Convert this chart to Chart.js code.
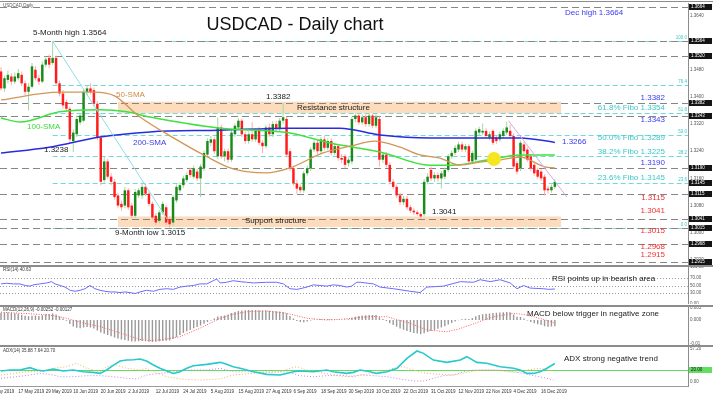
<!DOCTYPE html>
<html lang="en">
<head>
<meta charset="utf-8">
<title>USDCAD - Daily chart</title>
<script src="https://cdn.jsdelivr.net/npm/chart.js@4.4.1/dist/chart.umd.min.js"></script>
<style>
  html, body { margin: 0; padding: 0; background: #fff; }
  #wrap { position: relative; width: 713px; height: 399px; overflow: hidden; background: #fff; }
  #wrap canvas { position: absolute; left: 0; }
  .sep { position: absolute; left: 0; width: 713px; background: #8c8c8c; }
</style>
</head>
<body>
<div id="wrap">
  <canvas id="cMain" width="713" height="262" style="top:3px;width:713px;height:262px"></canvas>
  <canvas id="cRsi" width="713" height="37" style="top:267px;width:713px;height:37px"></canvas>
  <canvas id="cMacd" width="713" height="38" style="top:307px;width:713px;height:38px"></canvas>
  <canvas id="cAdx" width="713" height="52" style="top:347px;width:713px;height:52px"></canvas>
  <div class="sep" style="top:1px;height:1px"></div>
  <div class="sep" style="top:265px;height:2px"></div>
  <div class="sep" style="top:305px;height:2px"></div>
  <div class="sep" style="top:345px;height:2px"></div>
</div>
<script>
// ---------- data (bar index 0 = 10 May 2019) ----------
const dateTicks = ['7 May 2019', '17 May 2019', '29 May 2019', '10 Jun 2019', '20 Jun 2019', '2 Jul 2019',
  '12 Jul 2019', '24 Jul 2019', '5 Aug 2019', '15 Aug 2019', '27 Aug 2019', '6 Sep 2019', '18 Sep 2019',
  '30 Sep 2019', '10 Oct 2019', '22 Oct 2019', '31 Oct 2019', '12 Nov 2019', '22 Nov 2019', '4 Dec 2019', '16 Dec 2019'];
const dateTickPos = [-3, 5, 13, 21, 29, 37, 45, 53, 61, 69, 77, 85, 93, 101, 109, 117, 125, 133, 141, 149, 157];

// open, high, low, close
const candles = [
  [1.3475,1.3488,1.3418,1.3425],[1.3425,1.3462,1.3415,1.3455],[1.3450,1.3478,1.3440,1.3465],[1.3460,1.3470,1.3435,1.3445],
  [1.3445,1.3472,1.3438,1.3460],[1.3455,1.3482,1.3448,1.3470],[1.3465,1.3475,1.3432,1.3440],[1.3440,1.3448,1.3405,1.3415],
  [1.3415,1.3440,1.3360,1.3430],[1.3430,1.3500,1.3425,1.3490],[1.3480,1.3490,1.3448,1.3455],[1.3455,1.3465,1.3435,1.3445],
  [1.3445,1.3505,1.3440,1.3495],[1.3495,1.3520,1.3488,1.3510],[1.3515,1.3525,1.3485,1.3495],[1.3500,1.3564,1.3495,1.3515],
  [1.3515,1.3522,1.3432,1.3440],[1.3440,1.3448,1.3402,1.3410],[1.3410,1.3420,1.3365,1.3375],[1.3385,1.3392,1.3355,1.3365],
  [1.3365,1.3372,1.3265,1.3275],[1.3270,1.3305,1.3238,1.3295],[1.3290,1.3345,1.3282,1.3335],[1.3325,1.3352,1.3318,1.3345],
  [1.3330,1.3425,1.3325,1.3415],[1.3415,1.3435,1.3405,1.3425],[1.3425,1.3440,1.3408,1.3415],[1.3420,1.3428,1.3372,1.3380],
  [1.3380,1.3388,1.3272,1.3280],[1.3280,1.3288,1.3140,1.3150],[1.3155,1.3225,1.3148,1.3210],[1.3210,1.3218,1.3158,1.3165],
  [1.3165,1.3175,1.3140,1.3150],[1.3150,1.3158,1.3098,1.3105],[1.3110,1.3118,1.3072,1.3080],[1.3085,1.3095,1.3065,1.3075],
  [1.3080,1.3135,1.3072,1.3125],[1.3125,1.3132,1.3068,1.3075],[1.3080,1.3088,1.3043,1.3050],[1.3050,1.3128,1.3045,1.3120],
  [1.3110,1.3132,1.3102,1.3125],[1.3110,1.3148,1.3100,1.3135],[1.3135,1.3145,1.3108,1.3115],[1.3115,1.3122,1.3078,1.3085],
  [1.3085,1.3092,1.3038,1.3045],[1.3050,1.3058,1.3022,1.3030],[1.3035,1.3068,1.3028,1.3060],[1.3060,1.3092,1.3052,1.3085],
  [1.3075,1.3082,1.3022,1.3030],[1.3040,1.3048,1.3015,1.3025],[1.3030,1.3112,1.3022,1.3105],[1.3095,1.3142,1.3088,1.3135],
  [1.3125,1.3148,1.3118,1.3140],[1.3140,1.3168,1.3132,1.3160],[1.3155,1.3178,1.3148,1.3170],[1.3185,1.3192,1.3162,1.3170],
  [1.3165,1.3198,1.3158,1.3190],[1.3180,1.3188,1.3152,1.3160],[1.3160,1.3202,1.3105,1.3195],[1.3190,1.3242,1.3182,1.3235],
  [1.3230,1.3278,1.3222,1.3270],[1.3265,1.3285,1.3255,1.3275],[1.3275,1.3282,1.3232,1.3240],[1.3225,1.3340,1.3218,1.3310],
  [1.3310,1.3318,1.3218,1.3225],[1.3225,1.3248,1.3210,1.3240],[1.3240,1.3248,1.3205,1.3215],[1.3215,1.3302,1.3208,1.3295],
  [1.3290,1.3322,1.3282,1.3315],[1.3310,1.3338,1.3302,1.3330],[1.3330,1.3336,1.3282,1.3290],[1.3290,1.3298,1.3262,1.3270],
  [1.3270,1.3298,1.3262,1.3290],[1.3290,1.3325,1.3268,1.3275],[1.3275,1.3308,1.3268,1.3300],[1.3300,1.3312,1.3258,1.3265],
  [1.3265,1.3272,1.3235,1.3255],[1.3255,1.3318,1.3248,1.3310],[1.3310,1.3322,1.3282,1.3290],[1.3290,1.3328,1.3282,1.3320],
  [1.3320,1.3330,1.3295,1.3305],[1.3305,1.3338,1.3298,1.3330],[1.3330,1.3382,1.3322,1.3340],[1.3335,1.3342,1.3222,1.3230],
  [1.3240,1.3248,1.3182,1.3190],[1.3190,1.3198,1.3138,1.3145],[1.3145,1.3155,1.3115,1.3130],[1.3135,1.3142,1.3118,1.3125],
  [1.3125,1.3182,1.3118,1.3175],[1.3175,1.3198,1.3168,1.3190],[1.3190,1.3252,1.3182,1.3245],[1.3245,1.3272,1.3238,1.3265],
  [1.3265,1.3275,1.3232,1.3240],[1.3240,1.3282,1.3232,1.3275],[1.3275,1.3285,1.3242,1.3250],[1.3250,1.3278,1.3242,1.3270],
  [1.3270,1.3278,1.3228,1.3235],[1.3235,1.3262,1.3228,1.3255],[1.3255,1.3262,1.3212,1.3220],[1.3220,1.3232,1.3205,1.3215],
  [1.3225,1.3232,1.3190,1.3200],[1.3205,1.3222,1.3195,1.3215],[1.3210,1.3342,1.3202,1.3335],[1.3335,1.3352,1.3325,1.3345],
  [1.3345,1.3350,1.3318,1.3325],[1.3325,1.3348,1.3318,1.3340],[1.3340,1.3348,1.3312,1.3320],[1.3320,1.3352,1.3312,1.3345],
  [1.3345,1.3350,1.3308,1.3315],[1.3315,1.3350,1.3308,1.3340],[1.3335,1.3342,1.3195,1.3215],[1.3215,1.3238,1.3205,1.3230],
  [1.3230,1.3238,1.3192,1.3200],[1.3200,1.3208,1.3142,1.3150],[1.3150,1.3158,1.3128,1.3135],[1.3135,1.3142,1.3102,1.3110],
  [1.3110,1.3118,1.3082,1.3090],[1.3090,1.3108,1.3082,1.3100],[1.3100,1.3108,1.3068,1.3075],[1.3075,1.3082,1.3058,1.3065],
  [1.3065,1.3072,1.3052,1.3060],[1.3060,1.3066,1.3050,1.3055],[1.3055,1.3060,1.3041,1.3048],[1.3055,1.3158,1.3048,1.3150],
  [1.3150,1.3175,1.3142,1.3165],[1.3185,1.3195,1.3152,1.3160],[1.3160,1.3178,1.3150,1.3170],[1.3170,1.3178,1.3150,1.3160],
  [1.3160,1.3182,1.3130,1.3175],[1.3165,1.3192,1.3158,1.3185],[1.3185,1.3232,1.3178,1.3225],[1.3225,1.3242,1.3218,1.3235],
  [1.3235,1.3258,1.3228,1.3250],[1.3245,1.3268,1.3238,1.3260],[1.3260,1.3268,1.3238,1.3245],[1.3245,1.3262,1.3238,1.3255],
  [1.3255,1.3262,1.3202,1.3210],[1.3210,1.3242,1.3202,1.3235],[1.3215,1.3308,1.3208,1.3300],[1.3295,1.3312,1.3288,1.3305],
  [1.3295,1.3322,1.3288,1.3300],[1.3300,1.3308,1.3278,1.3285],[1.3280,1.3298,1.3272,1.3290],[1.3300,1.3305,1.3258,1.3265],
  [1.3280,1.3288,1.3262,1.3270],[1.3275,1.3298,1.3268,1.3290],[1.3285,1.3308,1.3278,1.3300],[1.3295,1.3327,1.3288,1.3310],
  [1.3300,1.3318,1.3278,1.3285],[1.3285,1.3292,1.3188,1.3195],[1.3205,1.3212,1.3172,1.3180],[1.3190,1.3272,1.3182,1.3265],
  [1.3260,1.3268,1.3232,1.3240],[1.3245,1.3252,1.3208,1.3215],[1.3225,1.3232,1.3182,1.3190],[1.3200,1.3208,1.3168,1.3175],
  [1.3185,1.3192,1.3158,1.3165],[1.3180,1.3188,1.3152,1.3160],[1.3165,1.3172,1.3110,1.3125],[1.3130,1.3138,1.3115,1.3125],
  [1.3125,1.3142,1.3118,1.3135],[1.3135,1.3158,1.3128,1.3150]
];

// moving averages: [bar, price]
const sma50 = [[0,1.3391],[17,1.3414],[27,1.3414],[33,1.3403],[40,1.3344],[50,1.3280],[60,1.3223],[66.6,1.3191],
  [72,1.3179],[77,1.3176],[84,1.3191],[93.6,1.3235],[101.5,1.3255],[108.7,1.3270],[116,1.3252],[121.8,1.3229],
  [127.6,1.3220],[133.4,1.3199],[139.2,1.3208],[145,1.3214],[150.9,1.3223],[158,1.3194],[161,1.3191]];
const sma100 = [[0,1.3338],[5.5,1.3326],[17,1.3356],[28.8,1.3362],[36.6,1.3356],[43.3,1.3341],[63.7,1.3308],
  [84,1.3294],[95.6,1.3264],[110.2,1.3238],[124.7,1.3199],[131.4,1.3199],[141.3,1.3214],[150.9,1.3229],[161,1.3229]];
const sma200 = [[0,1.3235],[14,1.3252],[28.8,1.3282],[43.3,1.3297],[63.7,1.3302],[84,1.3308],[98.5,1.3308],
  [110.2,1.3288],[124.7,1.3279],[150.9,1.3279],[161,1.3266]];

const cyanTrend = [[15, 1.3564], [48.3, 1.3040]];
const pinkTrend = [[147.5, 1.3330], [164.5, 1.3105]];
const crossPoint = [143.3, 1.3217];

const keyLevels = [1.3664, 1.3564, 1.3520, 1.3382, 1.3343, 1.3190, 1.3115, 1.3041, 1.3015, 1.2968, 1.2915];
const fibLevels = [1.3564, 1.3434, 1.3354, 1.3289, 1.3225, 1.3145, 1.3015];
const fibNames = ['100.0', '76.4', '61.8', '50.0', '38.2', '23.6', '0.0'];
const fibStart = 15;
const tagLevels = [1.3664, 1.3564, 1.3520, 1.3382, 1.3343, 1.3190, 1.3145, 1.3115, 1.3041, 1.3015, 1.2968, 1.2915];
const resistanceZone = [1.3352, 1.3386];
const supportZone = [1.3017, 1.3048];
const zoneSpan = [34, 162.8];
const priceTicks = [1.2920, 1.3000, 1.3080, 1.3160, 1.3240, 1.3320, 1.3400, 1.3480, 1.3560, 1.3640];

const rsiPoints = [[0,54.3],[1.6,56],[3.6,54.3],[5.5,54.3],[7,50],[8.4,48.3],[9.4,51.7],[11.3,54.3],[13.3,56.9],
  [14.7,60.4],[15.7,54.3],[17.2,50],[18.6,45.7],[20.1,37],[21.5,34.4],[23,37],[24.4,41.3],[25.9,50],[27.3,41.3],
  [28.8,37],[30.2,34.4],[31.7,32.6],[33.1,32.6],[34.6,30.9],[36,32.6],[37.5,30.9],[39,28.3],[40.4,32.6],[42.3,37],
  [44.3,34.4],[46.2,39.6],[48.2,41.3],[50.1,39.6],[52,45.7],[54,48.3],[55.9,50],[57.8,54.3],[59.8,54.3],[61.7,63],
  [62.7,67.4],[63.7,56.9],[65.6,58.7],[67.5,63],[69.5,60.4],[71.4,58.7],[73.4,56.9],[77.2,58.7],[80.1,58.7],
  [82.1,54.3],[84,41.3],[86,39.6],[86.9,41.3],[88.9,45.7],[90.8,51.7],[92.7,50],[94.7,48.3],[96.6,51.7],[98.5,50],
  [100.5,45.7],[101.9,48.3],[103.4,58.7],[104.4,58.7],[108.3,54.3],[110.2,45.7],[114.1,41.3],[118.9,34.4],
  [121.8,30.9],[123.8,45.7],[128.6,48.3],[133.5,60.4],[137.3,58.7],[139.3,65.6],[142.2,60.4],[145.1,65.6],
  [148,56.9],[150,41.3],[151.9,50],[153.8,43],[157.7,41.3],[159.2,39.6],[161,40.6]];
const rsiLevels = [30, 50, 70];
const rsiTicks = [0, 30, 50, 70, 100];

const macdHist = [0.0029,0.0030,0.0030,0.0029,0.0027,0.0025,0.0021,0.0017,0.0015,0.0017,0.0018,0.0016,0.0019,0.0023,
  0.0024,0.0026,0.0022,0.0014,0.0006,-0.0003,-0.0016,-0.0026,-0.0031,-0.0033,-0.0030,-0.0028,-0.0030,-0.0034,-0.0042,
  -0.0050,-0.0055,-0.0060,-0.0065,-0.0070,-0.0074,-0.0078,-0.0080,-0.0083,-0.0086,-0.0086,-0.0085,-0.0084,-0.0085,
  -0.0087,-0.0088,-0.0087,-0.0085,-0.0084,-0.0083,-0.0082,-0.0076,-0.0068,-0.0060,-0.0052,-0.0045,-0.0040,-0.0033,
  -0.0028,-0.0022,-0.0015,-0.0008,-0.0002,0.0006,0.0014,0.0016,0.0018,0.0022,0.0028,0.0032,0.0036,0.0038,0.0039,
  0.0040,0.0040,0.0040,0.0039,0.0038,0.0038,0.0037,0.0036,0.0035,0.0034,0.0032,0.0026,0.0016,0.0006,-0.0004,-0.0008,
  -0.0009,-0.0006,-0.0002,0.0002,0.0002,0.0004,0.0004,0.0004,0.0003,0.0002,0.0001,0.0001,0.0002,0.0003,0.0009,0.0013,
  0.0016,0.0018,0.0019,0.0020,0.0020,0.0020,0.0011,0.0004,-0.0004,-0.0013,-0.0020,-0.0027,-0.0034,-0.0039,-0.0044,
  -0.0048,-0.0052,-0.0054,-0.0057,-0.0053,-0.0048,-0.0044,-0.0040,-0.0035,-0.0030,-0.0025,-0.0018,-0.0012,-0.0006,
  -0.0001,0.0003,0.0005,0.0004,0.0008,0.0015,0.0020,0.0023,0.0025,0.0026,0.0028,0.0029,0.0030,0.0031,0.0032,0.0031,
  0.0022,0.0013,0.0012,0.0006,-0.0002,-0.0008,-0.0013,-0.0017,-0.0020,-0.0025,-0.0027,-0.0026,-0.0025];
const macdSignal = [[0,0.0031],[7,0.0026],[14,0.0020],[19,0.0007],[24,-0.0012],[29,-0.0027],[33,-0.0045],
  [36.5,-0.0060],[40.4,-0.0078],[43,-0.0082],[46.2,-0.0080],[52,-0.0067],[57.8,-0.0033],[63.7,0.0007],[67,0.0022],
  [71.4,0.0033],[77.2,0.0036],[83,0.0027],[88.9,0.0007],[94.7,0.0000],[99,0.0003],[104.4,0.0010],[108,0.0014],
  [112.2,0.0013],[115,0.0002],[118.9,-0.0013],[123.8,-0.0040],[129.6,-0.0047],[133,-0.0036],[136.4,-0.0020],
  [140,-0.0002],[143.2,0.0013],[149,0.0027],[152,0.0022],[154.8,0.0013],[158,0.0001],[161,-0.0012]];
const macdTicks = [0.005, 0, -0.0095];
const macdTickNames = ['0.005', '0.000', '-0.01'];

const adxLine = [[0,18.8],[2.6,20.6],[5.5,20.6],[8.4,24.7],[10.4,20.6],[12.3,18.8],[15.2,22.4],[18.1,18.8],[21,20.6],
  [23.9,17.6],[26.8,16.5],[28.8,14.7],[30.7,20.6],[32.7,29.3],[34.6,36.4],[36.5,38],[38.5,38.6],[40.4,39.8],
  [42.3,36.4],[44.3,29.3],[46.2,23.6],[48.2,18.8],[50.1,14.7],[52,17.6],[54,23.6],[55.9,28.2],[59.8,30.5],[63.7,34],
  [65.6,30.5],[67.5,26.4],[69.5,23.6],[73.4,17.6],[77.2,13],[81.1,11.9],[85,17.6],[86.9,18.8],[90.8,17.6],[94.7,20.6],
  [96.6,17.6],[100.5,14.7],[102.4,16.5],[104.4,20.6],[107.3,17.6],[109.2,14.7],[112.2,17.6],[115.1,23.6],[118,41],
  [120.9,53.8],[122.8,49.7],[125.7,38],[129.6,34],[133.5,38],[135.4,43.9],[138.3,34],[141.2,32.3],[145.1,26.4],
  [149,23.6],[150.9,20.6],[152.9,14.7],[154.8,14.7],[156.7,17.6],[158.7,23.6],[161,32]];
const diMinus = [[0,11.9],[3.6,14.7],[7.5,17.6],[11.3,17.6],[15.2,23.6],[19.1,26.4],[22,32.3],[24.9,23.6],[28.8,17.6],
  [30.7,26.4],[33.6,29.3],[36.5,23.6],[40.4,20.6],[42.3,23.6],[44.3,17.6],[48.2,8.9],[52,4.9],[57.8,3.1],[63.7,4.9],
  [67.5,11.9],[73.4,14.7],[77.2,17.6],[81.1,17.6],[84,23.6],[86,26.4],[88.9,20.6],[92.7,16.5],[96.6,11.9],[100.5,8.9],
  [104.4,11.9],[108.3,14.7],[110.2,17.6],[114.1,23.6],[117,26.4],[119.9,20.6],[123.8,14.7],[127.7,13],[131.5,11.9],
  [135.4,16.5],[139.3,20.6],[143.2,20.6],[147,17.6],[150,16.5],[152.9,20.6],[156.7,23.6],[160.6,18.8]];
const diPlus = [[0,6.1],[4.6,8.9],[8.4,11.9],[11.3,14.7],[14.2,13],[17.2,8.9],[21,8.9],[24.9,10.7],[28.8,10.7],
  [32.7,8.9],[36.5,6.1],[39.4,4.9],[42.3,11.9],[46.2,14.7],[50.1,17.6],[54,20.6],[59.8,20.6],[63.7,23.6],[67.5,17.6],
  [71.4,17.6],[77.2,16.5],[83,17.6],[86.9,10.7],[90.8,8.9],[94.7,10.7],[98.5,11.9],[102.4,8.9],[104.4,11.9],
  [108.3,10.7],[112.2,8.9],[116,4.9],[119.9,1.4],[122.8,1.4],[125.7,6.1],[128.6,10.7],[131.5,11.9],[134.4,17.6],
  [137.3,20.6],[141.2,20.6],[145.1,20.6],[149,17.6],[151.9,14.7],[154.8,10.7],[158.7,6.1],[160.6,3.1]];
const adxLevel = 20;
const adxTicks = [57.2, 0];

// ---------- helpers ----------
const FONT = '"Liberation Sans", Arial, Helvetica, sans-serif';
Chart.defaults.font.family = FONT;
const xMin = -0.3, xMax = 199.7;
const pts = arr => arr.map(p => ({ x: p[0], y: p[1] }));

// [text, x, y (page px), colour, size, align]
const notesMain = [
  ['USDCAD,Daily', 3, 6, '#555', 4.5, 'left'],
  ['USDCAD - Daily chart', 295, 25, '#111', 18, 'center'],
  ['5-Month high 1.3564', 33, 33, '#1a1a1a', 8, 'left'],
  ['Dec high 1.3664', 565, 13, '#3b3bf0', 8, 'left'],
  ['50-SMA', 116, 95, '#d08b4a', 8, 'left'],
  ['1.3382', 266, 97, '#1a1a1a', 8, 'left'],
  ['Resistance structure', 297, 108, '#1a1a1a', 8, 'left'],
  ['100-SMA', 27, 127, '#3fd83f', 8, 'left'],
  ['200-SMA', 133, 143, '#4040e0', 8, 'left'],
  ['1.3238', 44, 150, '#1a1a1a', 8, 'left'],
  ['Support structure', 245, 221, '#1a1a1a', 8, 'left'],
  ['9-Month low 1.3015', 115, 233, '#1a1a1a', 8, 'left'],
  ['1.3041', 432, 212, '#1a1a1a', 8, 'left'],
  ['1.3266', 562, 142, '#3b3bf0', 8, 'left'],
  ['1.3382', 665, 98, '#3b3bf0', 8, 'right'],
  ['61.8% Fibo 1.3354', 665, 108, '#3cc8c8', 8, 'right'],
  ['1.3343', 665, 120, '#3b3bf0', 8, 'right'],
  ['50.0% Fibo 1.3289', 665, 138, '#3cc8c8', 8, 'right'],
  ['38.2% Fibo 1.3225', 665, 152, '#3cc8c8', 8, 'right'],
  ['1.3190', 665, 163, '#3b3bf0', 8, 'right'],
  ['23.6% Fibo 1.3145', 665, 178, '#3cc8c8', 8, 'right'],
  ['1.3115', 665, 198, '#f03030', 8, 'right'],
  ['1.3041', 665, 211, '#f03030', 8, 'right'],
  ['1.3015', 665, 231, '#f03030', 8, 'right'],
  ['1.2968', 665, 247, '#f03030', 8, 'right'],
  ['1.2915', 665, 255, '#f03030', 8, 'right']
];
const notesRsi = [['RSI(14) 40.63', 3, 270, '#333', 4.5, 'left'],
  ['RSI points up in bearish area', 552, 279, '#1a1a1a', 8, 'left']];
const notesMacd = [['MACD(12,26,9) -0.00252 -0.00127', 3, 310, '#333', 4.5, 'left'],
  ['MACD below trigger in negative zone', 527, 314, '#1a1a1a', 8, 'left']];
const notesAdx = [['ADX(14) 35.88 7.64 20.70', 3, 351, '#333', 4.5, 'left'],
  ['ADX strong negative trend', 564, 359, '#1a1a1a', 8, 'left']];

function drawNotes(ctx, list, top) {
  ctx.save();
  ctx.textBaseline = 'middle';
  list.forEach(n => {
    ctx.font = n[4] + 'px ' + FONT;
    ctx.fillStyle = n[3];
    ctx.textAlign = n[5];
    ctx.fillText(n[0], n[1], n[2] - top);
  });
  ctx.restore();
}

function tag(ctx, py, text, bg, fg) {
  ctx.fillStyle = bg;
  ctx.fillRect(689, Math.round(py) - 3, 23, 6);
  ctx.fillStyle = fg;
  ctx.font = '4.5px ' + FONT;
  ctx.textAlign = 'left';
  ctx.textBaseline = 'middle';
  ctx.fillText(text, 691, Math.round(py));
}

function hLine(ctx, x0, x1, py) {
  const yy = Math.round(py) + 0.5;
  ctx.beginPath(); ctx.moveTo(x0, yy); ctx.lineTo(x1, yy); ctx.stroke();
}

function yRight(min, max, ticks, fmt) {
  return {
    position: 'right', min: min, max: max, beginAtZero: false,
    grid: { display: false, drawTicks: false, tickLength: 0 },
    border: { display: true, color: '#8c8c8c' },
    afterBuildTicks: s => { s.ticks = ticks.map(v => ({ value: v })); },
    afterFit: s => { s.width = 25; s.paddingTop = 0; s.paddingBottom = 0; },
    ticks: { font: { size: 4.5 }, color: '#555', padding: 2, autoSkip: false, callback: fmt }
  };
}
const xHidden = {
  type: 'linear', min: xMin, max: xMax, offset: false, display: false,
  afterBuildTicks: s => { s.ticks = dateTickPos.map(v => ({ value: v })); }
};
const base = {
  responsive: false, animation: false, devicePixelRatio: 1, events: [],
  layout: { padding: 0 },
  plugins: { legend: { display: false }, tooltip: { enabled: false } }
};

// ---------- main price panel ----------
const bodyColors = candles.map(c => c[3] >= c[0] ? '#1b8a1b' : '#ff1c1c');
const wickColors = candles.map(c => c[3] >= c[0] ? '#a3d8a3' : '#ffacac');

const mainDecor = {
  id: 'mainDecor',
  beforeDatasetsDraw(chart) {
    const { ctx, chartArea: a, scales: { x, y } } = chart;
    ctx.save();
    ctx.fillStyle = '#fcdcbc';
    const zl = x.getPixelForValue(zoneSpan[0]), zr = x.getPixelForValue(zoneSpan[1]);
    [resistanceZone, supportZone].forEach(z => {
      const t = y.getPixelForValue(z[1]), b = y.getPixelForValue(z[0]);
      ctx.fillRect(zl, t, zr - zl, b - t);
    });
    ctx.lineWidth = 1;
    ctx.setLineDash([5, 3]);
    ctx.strokeStyle = '#70dada';
    const fx = x.getPixelForValue(fibStart);
    fibLevels.forEach(v => hLine(ctx, fx, a.right, y.getPixelForValue(v)));
    ctx.setLineDash([7, 4]);
    ctx.strokeStyle = '#868686';
    keyLevels.forEach(v => hLine(ctx, a.left, a.right, y.getPixelForValue(v)));
    ctx.restore();
  },
  afterDatasetsDraw(chart) {
    const { ctx, scales: { x, y } } = chart;
    ctx.save();
    ctx.fillStyle = '#f6e523';
    ctx.beginPath();
    ctx.arc(x.getPixelForValue(crossPoint[0]), y.getPixelForValue(crossPoint[1]), 7, 0, Math.PI * 2);
    ctx.fill();
    ctx.restore();
    drawNotes(ctx, notesMain, 3);
  },
  afterDraw(chart) {
    const { ctx, scales: { y } } = chart;
    ctx.save();
    ctx.font = '4.5px ' + FONT;
    ctx.fillStyle = '#3cc8c8';
    ctx.textAlign = 'right';
    ctx.textBaseline = 'bottom';
    fibLevels.forEach((v, k) => ctx.fillText(fibNames[k], 687, y.getPixelForValue(v) - 1));
    tagLevels.forEach(v => tag(ctx, y.getPixelForValue(v), v.toFixed(4), '#151515', '#fff'));
    ctx.restore();
  }
};

new Chart(document.getElementById('cMain'), {
  type: 'bar',
  data: {
    datasets: [
      { type: 'line', data: pts(cyanTrend), borderColor: '#8edfe6', borderWidth: 1, pointRadius: 0 },
      { type: 'line', data: pts(pinkTrend), borderColor: '#d6a6e6', borderWidth: 1, pointRadius: 0 },
      { type: 'line', data: pts(sma50), borderColor: '#d39555', borderWidth: 1.3, pointRadius: 0, cubicInterpolationMode: 'monotone' },
      { type: 'line', data: pts(sma100), borderColor: '#3ee23e', borderWidth: 1.5, pointRadius: 0, cubicInterpolationMode: 'monotone' },
      { type: 'line', data: pts(sma200), borderColor: '#2a2ae0', borderWidth: 1.5, pointRadius: 0, cubicInterpolationMode: 'monotone' },
      { data: candles.map((c, i) => ({ x: i, y: [Math.min(c[0], c[3]), Math.max(c[0], c[3])] })),
        backgroundColor: bodyColors, grouped: false, maxBarThickness: 2.5 },
      { data: candles.map((c, i) => ({ x: i, y: [c[2], c[1]] })),
        backgroundColor: wickColors, grouped: false, maxBarThickness: 1 }
    ]
  },
  options: Object.assign({}, base, {
    scales: {
      x: xHidden,
      y: yRight(1.2905, 1.36765, priceTicks, v => v.toFixed(4))
    }
  }),
  plugins: [mainDecor]
});

// ---------- RSI ----------
new Chart(document.getElementById('cRsi'), {
  type: 'line',
  data: { datasets: [{ data: pts(rsiPoints), borderColor: '#6b6bff', borderWidth: 1, pointRadius: 0 }] },
  options: Object.assign({}, base, {
    scales: { x: xHidden, y: yRight(0, 100, rsiTicks, v => v.toFixed(2)) }
  }),
  plugins: [{
    id: 'rsiDecor',
    beforeDatasetsDraw(chart) {
      const { ctx, chartArea: a, scales: { y } } = chart;
      ctx.save();
      ctx.setLineDash([1, 2]);
      ctx.strokeStyle = '#9a9a9a';
      ctx.lineWidth = 1;
      rsiLevels.forEach(v => hLine(ctx, a.left, a.right, y.getPixelForValue(v)));
      ctx.restore();
    },
    afterDraw(chart) { drawNotes(chart.ctx, notesRsi, 267); }
  }]
});

// ---------- MACD ----------
new Chart(document.getElementById('cMacd'), {
  type: 'bar',
  data: {
    datasets: [
      { type: 'line', data: pts(macdSignal), borderColor: '#ff5a5a', borderWidth: 1, borderDash: [1, 1.5], pointRadius: 0 },
      { data: macdHist.map((v, i) => ({ x: i, y: v })), backgroundColor: '#999999', grouped: false, maxBarThickness: 1.4 }
    ]
  },
  options: Object.assign({}, base, {
    scales: {
      x: xHidden,
      y: yRight(-0.0100, 0.0052, macdTicks, (v, k) => macdTickNames[k])
    }
  }),
  plugins: [{ id: 'macdDecor', afterDraw(chart) { drawNotes(chart.ctx, notesMacd, 307); } }]
});

// ---------- ADX ----------
new Chart(document.getElementById('cAdx'), {
  type: 'line',
  data: {
    datasets: [
      { data: pts(adxLine), borderColor: '#26c9cc', borderWidth: 1.6, pointRadius: 0 },
      { data: pts(diMinus), borderColor: '#f2b259', borderWidth: 1, borderDash: [1, 2], pointRadius: 0 },
      { data: pts(diPlus), borderColor: '#c585e3', borderWidth: 1, borderDash: [1, 2], pointRadius: 0 }
    ]
  },
  options: Object.assign({}, base, {
    scales: {
      x: {
        type: 'linear', min: xMin, max: xMax, offset: false,
        grid: { display: false, drawTicks: false, tickLength: 0 },
        border: { display: true, color: '#9a9a9a' },
        afterBuildTicks: s => { s.ticks = dateTickPos.map(v => ({ value: v })); },
        afterFit: s => { s.height = 13; s.paddingLeft = 0; s.paddingRight = 0; },
        ticks: {
          autoSkip: false, maxRotation: 0, minRotation: 0, align: 'start', padding: 3,
          font: { size: 4.5 }, color: '#333',
          callback: (v, k) => dateTicks[k]
        }
      },
      y: yRight(-7.3, 60.8, adxTicks, v => v.toFixed(2))
    }
  }),
  plugins: [{
    id: 'adxDecor',
    beforeDatasetsDraw(chart) {
      const { ctx, chartArea: a, scales: { y } } = chart;
      ctx.save();
      ctx.strokeStyle = '#62dd62';
      ctx.lineWidth = 1;
      hLine(ctx, a.left, a.right, y.getPixelForValue(adxLevel));
      ctx.restore();
    },
    afterDraw(chart) {
      const { ctx, scales: { y } } = chart;
      drawNotes(ctx, notesAdx, 347);
      ctx.save();
      tag(ctx, y.getPixelForValue(adxLevel), adxLevel.toFixed(2), '#62dd62', '#111');
      ctx.restore();
    }
  }]
});
</script>
</body>
</html>
